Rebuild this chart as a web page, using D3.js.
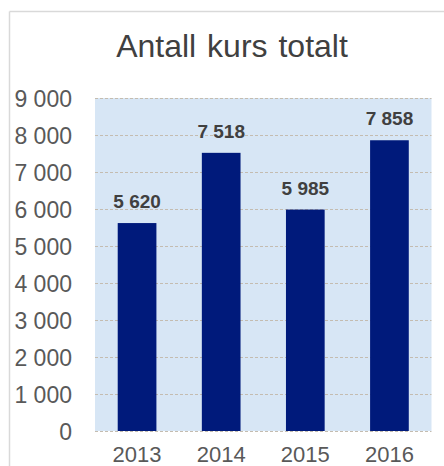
<!DOCTYPE html>
<html><head><meta charset="utf-8">
<script src="https://cdn.jsdelivr.net/npm/d3@7"></script>
<style>body{margin:0;background:#fff}svg{display:block}</style>
</head><body>
<script>
const title = "Antall kurs totalt";
const years = ["2013","2014","2015","2016"];
const values = [5620, 7518, 5985, 7858];
const yTicks = [0,1000,2000,3000,4000,5000,6000,7000,8000,9000];

const W = 444, H = 466;
const svg = d3.select("body").append("svg").attr("width", W).attr("height", H);

// outer chart border (top + left visible)
svg.append("line").attr("x1",9.5).attr("x2",W).attr("y1",11.5).attr("y2",11.5).attr("stroke","#d9d9d9").attr("stroke-width",1.5);
svg.append("line").attr("x1",9.5).attr("x2",9.5).attr("y1",11.5).attr("y2",H).attr("stroke","#d9d9d9").attr("stroke-width",1.5);

const plot = {left:95, right:431.5, top:98, bottom:431};
const x = d3.scaleBand().domain(years).range([plot.left, plot.right]).paddingInner(0.54).paddingOuter(0.27);
const y = d3.scaleLinear().domain([0,9000]).range([plot.bottom, plot.top]);

svg.append("rect").attr("x",plot.left).attr("y",plot.top)
  .attr("width",plot.right-plot.left).attr("height",plot.bottom-plot.top).attr("fill","#d7e6f5");

// gridlines
svg.append("g").selectAll("line").data(yTicks).join("line")
  .attr("x1",plot.left).attr("x2",plot.right)
  .attr("y1",d=>Math.round(y(d))+0.5).attr("y2",d=>Math.round(y(d))+0.5)
  .attr("stroke","#c4bcb0").attr("stroke-width",1).attr("stroke-dasharray","3,2");

// y axis labels
const fmt = d => d3.format(",")(d).replace(/,/g," ");
const yAxis = d3.axisLeft(y).tickValues(yTicks).tickFormat(fmt).tickSize(0).tickPadding(0);
const gy = svg.append("g").attr("transform","translate(72,0)").call(yAxis);
gy.select(".domain").remove();
gy.selectAll("text").attr("font-family","'Liberation Sans', Arial, sans-serif").attr("font-size",23).attr("fill","#595959").attr("dy","0.36em");

// x axis labels
const xAxis = d3.axisBottom(x).tickSize(0).tickPadding(0);
const gx = svg.append("g").attr("transform","translate(0,447)").call(xAxis);
gx.select(".domain").remove();
gx.selectAll("text").attr("font-family","'Liberation Sans', Arial, sans-serif").attr("font-size",22).attr("fill","#595959").attr("dy","0.7em");

// bars
svg.append("g").selectAll("rect").data(values).join("rect")
  .attr("x",(d,i)=>x(years[i])).attr("width",x.bandwidth())
  .attr("y",d=>y(d)).attr("height",d=>y(0)-y(d)).attr("fill","#001a7b");

// data labels
svg.append("g").selectAll("text").data(values).join("text")
  .attr("x",(d,i)=>x(years[i])+x.bandwidth()/2).attr("y",d=>y(d)-15)
  .attr("text-anchor","middle").attr("font-family","'Liberation Sans', Arial, sans-serif")
  .attr("font-weight","bold").attr("font-size",19).attr("fill","#404040").text(fmt);

// title
svg.append("text").attr("x",232).attr("y",57).attr("text-anchor","middle")
  .attr("font-family","'Liberation Sans', Arial, sans-serif").attr("font-size",32)
  .attr("word-spacing","2").attr("fill","#404040").text(title);
</script>
</body></html>
